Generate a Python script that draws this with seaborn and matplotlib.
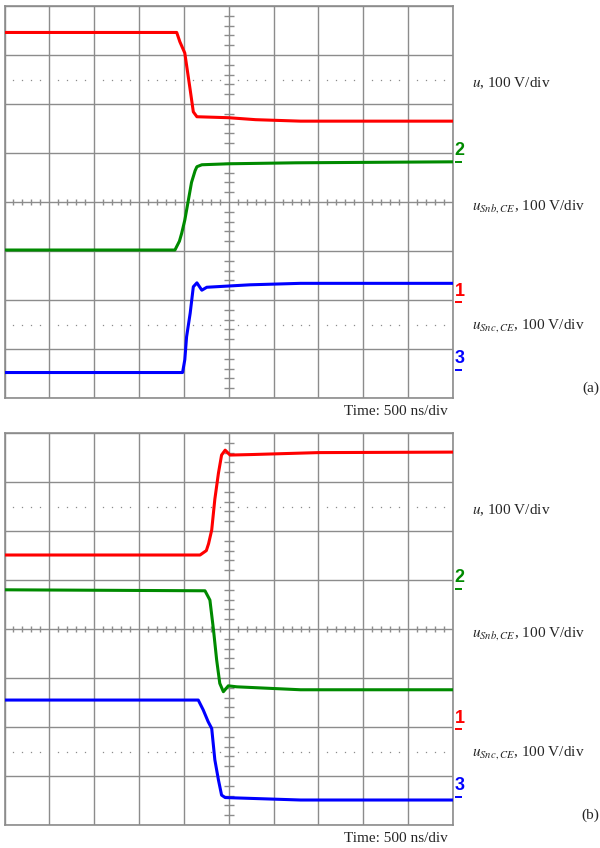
import numpy as np
import pandas as pd
import matplotlib
matplotlib.use("Agg")
import matplotlib.pyplot as plt
import seaborn as sns

# ---- waveform breakpoints (time in div, amplitude in div from screen centre) ----
# panel (a): turn-off transient
a_red_t = [0.0, 3.84, 3.91, 4.02, 4.14, 4.21, 4.29, 5.0, 5.6, 6.6, 10.0]
a_red_v = [3.46, 3.46, 3.27, 3.04, 2.29, 1.84, 1.74, 1.72, 1.68, 1.65, 1.65]

a_grn_t = [0.0, 3.80, 3.90, 3.95, 4.02, 4.10, 4.17, 4.25, 4.29, 4.40, 5.0, 6.5, 10.0]
a_grn_v = [-0.98, -0.98, -0.80, -0.64, -0.37, 0.04, 0.40, 0.64, 0.72, 0.76, 0.78, 0.80, 0.82]

a_blu_t = [0.0, 3.97, 4.02, 4.06, 4.14, 4.21, 4.29, 4.40, 4.51, 5.47, 6.6, 10.0]
a_blu_v = [-3.48, -3.48, -3.22, -2.75, -2.27, -1.73, -1.65, -1.80, -1.74, -1.69, -1.66, -1.66]

# panel (b): turn-on transient
b_red_t = [0.0, 4.36, 4.50, 4.55, 4.62, 4.69, 4.77, 4.84, 4.92, 5.03, 5.5, 7.0, 10.0]
b_red_v = [1.51, 1.51, 1.60, 1.74, 2.02, 2.65, 3.18, 3.55, 3.65, 3.55, 3.56, 3.60, 3.61]

b_grn_t = [0.0, 4.47, 4.54, 4.58, 4.66, 4.73, 4.80, 4.88, 4.99, 5.18, 6.6, 10.0]
b_grn_v = [0.80, 0.78, 0.66, 0.59, -0.02, -0.63, -1.11, -1.28, -1.16, -1.18, -1.24, -1.24]

b_blu_t = [0.0, 4.32, 4.43, 4.54, 4.62, 4.69, 4.77, 4.84, 4.92, 6.6, 10.0]
b_blu_v = [-1.45, -1.45, -1.65, -1.89, -2.03, -2.67, -3.08, -3.39, -3.44, -3.49, -3.49]

# channel ground-reference markers (div from centre)
chan_names = ["2", "1", "3"]
chan_levels = [0.82, -2.05, -3.42]

channel_labels = [r"$u$, 100 V/div", r"$u_{Snb,CE}$, 100 V/div", r"$u_{Snc,CE}$, 100 V/div"]
label_levels = [2.35, -0.16, -2.58]
panel_tags = ["(a)", "(b)"]
time_label = "Time: 500 ns/div"

colors = {"1": "#ff0000", "2": "#008a00", "3": "#0000ff"}
GRID = "#8c8c8c"

sns.set_style("white")
plt.rcParams["mathtext.fontset"] = "stix"
plt.rcParams["font.family"] = ["Liberation Serif", "DejaVu Serif"]

fig = plt.figure(figsize=(6, 8.48), dpi=100)
W, H = 600.0, 848.0
ax_a = fig.add_axes([4.5 / W, 1 - 398 / H, 448.5 / W, 392 / H])
ax_b = fig.add_axes([4.5 / W, 1 - 825 / H, 448.5 / W, 392 / H])


def traces_frame(red, grn, blu):
    parts = []
    for ch, (t, v) in zip(["1", "2", "3"], [red, grn, blu]):
        parts.append(pd.DataFrame({"t": t, "v": v, "ch": ch}))
    return pd.concat(parts, ignore_index=True)


def graticule(ax):
    ax.set_xlim(0, 10)
    ax.set_ylim(-4, 4)
    ax.set_xticks(np.arange(0, 11))
    ax.set_yticks(np.arange(-4, 5))
    ax.grid(True, color=GRID, lw=1.0)
    ax.tick_params(length=0, labelbottom=False, labelleft=False)
    for s in ax.spines.values():
        s.set_color(GRID)
        s.set_linewidth(1.2)
        s.set_visible(True)
    fx = np.array([k + f for k in range(10) for f in (0.2, 0.4, 0.6, 0.8)])
    fy = np.array([k + f for k in range(-4, 4) for f in (0.2, 0.4, 0.6, 0.8)])
    # minor ticks on the centre axes
    ax.plot(fx, np.zeros_like(fx), ls="none", marker="|", ms=5, mew=1.0, color=GRID, zorder=1)
    ax.plot(np.full_like(fy, 5.0), fy, ls="none", marker="_", ms=7.5, mew=1.0, color=GRID, zorder=1)
    # dotted reference rows
    for yy in (2.5, -2.5):
        ax.plot(fx, np.full_like(fx, yy), ls="none", marker="s", ms=0.9, mew=0, color=GRID, zorder=1)
    ax.set_axisbelow(True)


def decorate(ax, tag):
    for name, lvl in zip(chan_names, chan_levels):
        ax.text(10.04, lvl + 0.06, name, color=colors[name], fontsize=13, fontweight="bold",
                family=["Liberation Sans Narrow", "Liberation Sans", "DejaVu Sans"],
                ha="left", va="bottom", clip_on=False)
        ax.plot([10.04, 10.2], [lvl, lvl], color=colors[name], lw=1.4, clip_on=False,
                solid_capstyle="butt")
    for lab, lvl in zip(channel_labels, label_levels):
        ax.text(10.42, lvl, lab, fontsize=11, ha="left", va="baseline", clip_on=False)
    ax.text(13.26, -3.80, tag, fontsize=11, ha="right", va="center", clip_on=False)
    ax.text(9.89, -4.28, time_label, fontsize=11, ha="right", va="center", clip_on=False)


panels = [
    (ax_a, traces_frame((a_red_t, a_red_v), (a_grn_t, a_grn_v), (a_blu_t, a_blu_v)), panel_tags[0]),
    (ax_b, traces_frame((b_red_t, b_red_v), (b_grn_t, b_grn_v), (b_blu_t, b_blu_v)), panel_tags[1]),
]

for ax, df, tag in panels:
    graticule(ax)
    sns.lineplot(data=df, x="t", y="v", hue="ch", palette=colors, sort=False,
                 estimator=None, legend=False, lw=2.2, ax=ax, zorder=3)
    ax.set_xlabel("")
    ax.set_ylabel("")
    decorate(ax, tag)

fig.savefig("out.png", dpi=100)
